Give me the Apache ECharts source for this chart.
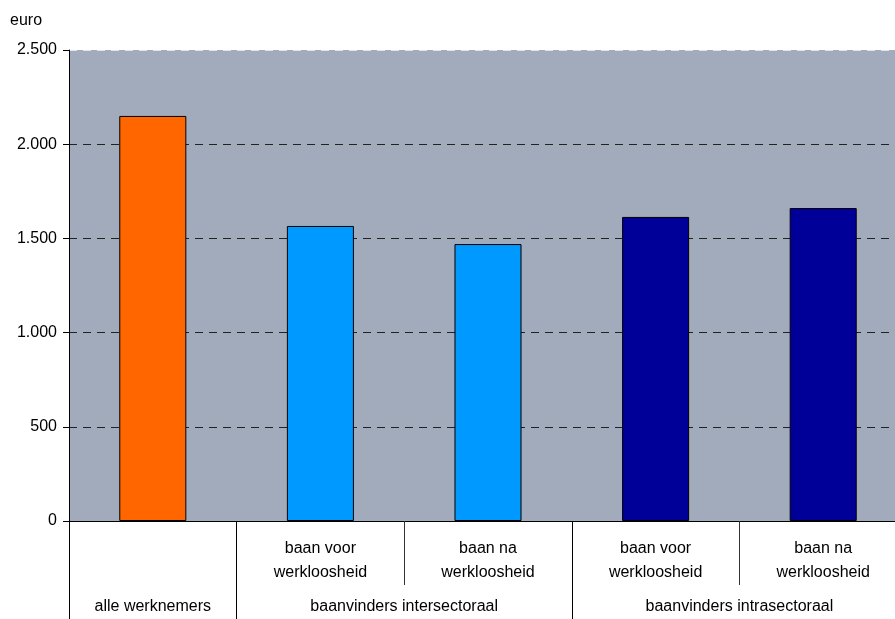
<!DOCTYPE html>
<html>
<head>
<meta charset="utf-8">
<script src="https://cdn.jsdelivr.net/npm/echarts@6/dist/echarts.min.js"></script>
<style>
  html, body { margin: 0; padding: 0; background: #ffffff; overflow: hidden; }
  /* the plot runs a little past the right edge of the window */
  #chart { width: 907px; height: 619px; }
</style>
</head>
<body>
<div id="chart"></div>
<script>
// Monthly wage (euro) per group of employees
const categories = ['', 'baan voor\nwerkloosheid', 'baan na\nwerkloosheid', 'baan voor\nwerkloosheid', 'baan na\nwerkloosheid'];
const values = [2150, 1566, 1470, 1614, 1661];
const barColors = ['#FF6600', '#0099FF', '#0099FF', '#000099', '#000099'];
const groupLabels = ['alle werknemers', 'baanvinders intersectoraal', 'baanvinders intrasectoraal'];
const groupCenters = [0.5, 2, 4];
const groupBounds = [0, 1, 3, 5];

const FONT = 'Liberation Sans';
const FS = 16;
const fmt = v => String(v).replace(/\B(?=(\d{3})+(?!\d))/g, '.');

const chart = echarts.init(document.getElementById('chart'), null, { renderer: 'canvas' });
chart.setOption({
  animation: false,
  textStyle: { fontFamily: FONT },
  title: {
    text: 'euro', left: 5, top: 8,
    textStyle: { fontFamily: FONT, fontSize: FS, fontWeight: 'normal', color: '#000' }
  },
  grid: {
    left: 69, top: 50, bottom: 98, right: 0,
    outerBoundsMode: 'none',
    show: true, backgroundColor: '#A2ABBB', borderWidth: 0
  },
  xAxis: [
    {
      type: 'category', data: categories, position: 'bottom',
      axisLine: { show: true, lineStyle: { color: '#000', width: 1 } },
      axisTick: { show: true, length: 64, lineStyle: { color: '#333' } },
      axisLabel: { margin: 16, fontSize: FS, color: '#000', lineHeight: 24, fontFamily: FONT },
      splitLine: { show: false }
    },
    {
      type: 'value', min: 0, max: 5, position: 'bottom',
      axisLine: { show: false },
      axisTick: { show: true, length: 98, customValues: groupBounds, lineStyle: { color: '#000' } },
      axisLabel: {
        margin: 78, fontSize: FS, color: '#000', fontFamily: FONT,
        customValues: groupCenters,
        formatter: v => groupLabels[groupCenters.indexOf(v)] || ''
      },
      splitLine: { show: false }
    }
  ],
  yAxis: {
    type: 'value', min: 0, max: 2500, interval: 500,
    axisLine: { show: true, lineStyle: { color: '#000' } },
    axisTick: { show: true, length: 6, lineStyle: { color: '#000' } },
    axisLabel: { margin: 12, fontSize: FS, color: '#000', fontFamily: FONT, formatter: fmt },
    splitLine: {
      show: true,
      lineStyle: { color: ['#000', '#222', '#222', '#222', '#222', '#DCE6F0'], type: [8, 6], width: 1 }
    }
  },
  series: [{
    type: 'bar', xAxisIndex: 0, yAxisIndex: 0,
    barWidth: '40%',
    data: values.map((v, i) => ({ value: v, itemStyle: { color: barColors[i] } })),
    itemStyle: { borderColor: '#000', borderWidth: 1 }
  }]
});
</script>
</body>
</html>
